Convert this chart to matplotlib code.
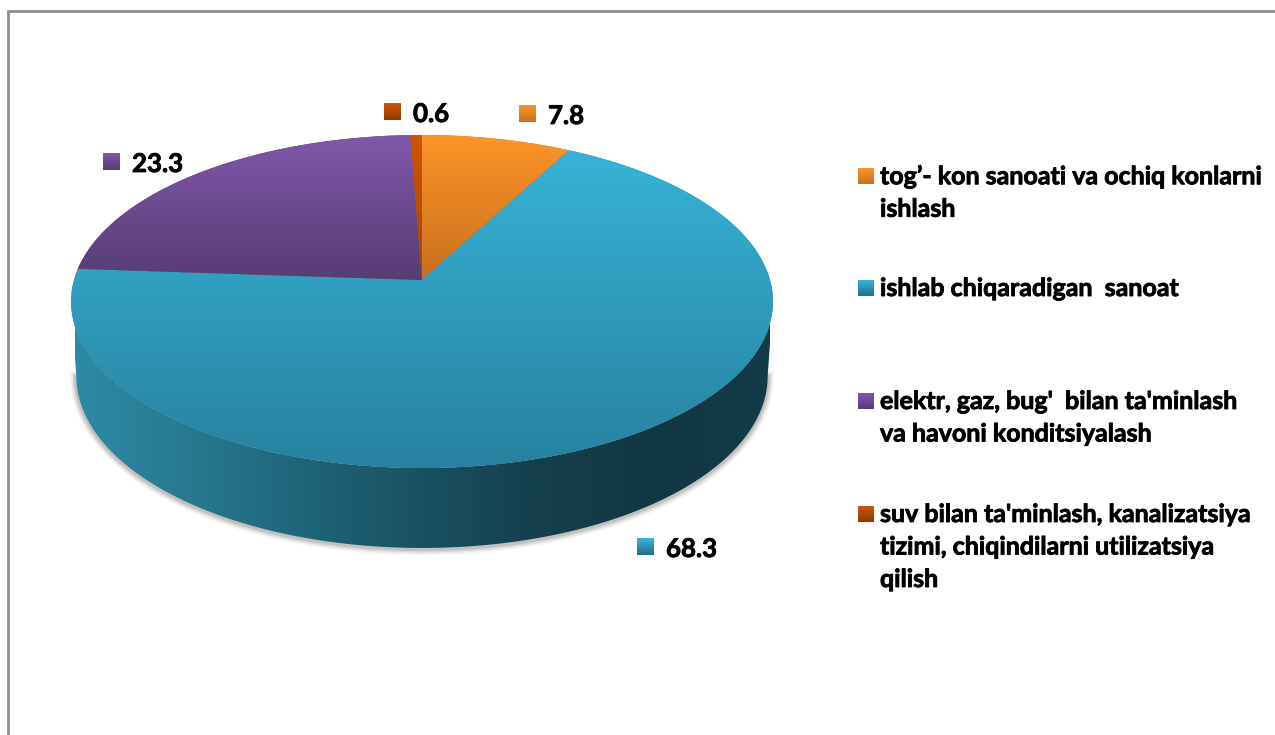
import numpy as np
import matplotlib
matplotlib.use('Agg')
import matplotlib.pyplot as plt
import matplotlib.patheffects as pe
from matplotlib.colors import LinearSegmentedColormap
from matplotlib.patches import Polygon

# Chart data
categories = [
    "tog\u2019- kon sanoati va ochiq konlarni\nishlash",
    "ishlab chiqaradigan  sanoat",
    "elektr, gaz, bug'  bilan ta'minlash\nva havoni konditsiyalash",
    "suv bilan ta'minlash, kanalizatsiya\ntizimi, chiqindilarni utilizatsiya\nqilish",
]
values = [7.8, 68.3, 23.3, 0.6]

# Colours per slice: light end / dark end of the gradient
top_colors = [('#fd9428', '#c8701e'), ('#38b5d9', '#27829f'), ('#8058a9', '#573c75'), ('#cf5500', '#a84400')]
marker_colors = [('#fd9428', '#c8701e'), ('#38b5d9', '#1f6f88'), ('#8058a9', '#573c75'), ('#cf5500', '#8f3a00')]
side_stops = ['#2e8aa7', '#27798f', '#1f6478', '#1a5162', '#153f4d', '#123744', '#133b49']

# Label and legend placement in pixels
value_pos = [(519, 114), (637, 547), (103, 162), (384, 112)]
legend_pos = [(858, 176), (858, 288), (858, 401), (858, 514)]

# Perspective of the pie
CX, CY = 422, 280
RX, RY, K = 348, 163.7, 0.129
WIDEST = 97.4  # angle where the outline is widest
BOTTOM_SX, BOTTOM_SY, BOTTOM_DY = 0.985, 1.032, 74

BOLD = [pe.withStroke(linewidth=0.6, foreground='black')]


def project(theta, sx=1.0, sy=1.0, dy=0.0):
    """theta in degrees, clockwise from the top of the pie."""
    t = np.radians(theta)
    x, y = np.sin(t), np.cos(t)
    w = 1 + K * y
    return np.column_stack([CX + sx * RX * x / w, CY + dy - sy * RY * y / w])


def gradient(ax, patch, c1, c2, y0, y1):
    cmap = LinearSegmentedColormap.from_list('g', [c1, c2])
    im = ax.imshow(np.linspace(0, 1, 256).reshape(-1, 1), cmap=cmap, aspect='auto',
                   extent=(0, 1275, y1, y0), zorder=patch.get_zorder(), interpolation='bilinear')
    im.set_clip_path(patch)


fig = plt.figure(figsize=(12.75, 7.35), dpi=100)
ax = fig.add_axes([0, 0, 1, 1])
ax.axis('off')
plt.rcParams['font.family'] = ['Lato', 'DejaVu Sans']

# Chart frame
ax.plot([7.5, 7.5, 1276], [736, 10.5, 10.5], color='#8e8e8e', lw=2, solid_joinstyle='miter', zorder=1)

# Side wall outline
top_edge = project(np.linspace(360 - WIDEST, WIDEST, 361))
bottom_edge = project(np.linspace(WIDEST, 360 - WIDEST, 361), BOTTOM_SX, BOTTOM_SY, BOTTOM_DY)
side_pts = np.vstack([bottom_edge, top_edge])

# Soft shadow under the wall
for lw, alpha in [(9, 0.04), (7, 0.05), (5, 0.07), (3, 0.10)]:
    ax.plot(bottom_edge[:, 0], bottom_edge[:, 1] + 1, color='black', lw=lw, alpha=alpha, zorder=2)

side = Polygon(side_pts, closed=True, fc='none', ec='none', zorder=3)
ax.add_patch(side)
side_cmap = LinearSegmentedColormap.from_list('side', side_stops)
im = ax.imshow(np.linspace(0, 1, 512).reshape(1, -1), cmap=side_cmap, aspect='auto',
               extent=(75, 770, 735, 0), zorder=3)
im.set_clip_path(side)

# Top face, one wedge per value
start = 0
for val, (c1, c2) in zip(values, top_colors):
    end = start + val / sum(values) * 360
    arc = project(np.linspace(start, end, max(int(end - start) * 2, 8)))
    pts = np.vstack([[CX, CY], arc])
    wedge = Polygon(pts, closed=True, fc=c2, ec='none', zorder=4)
    ax.add_patch(wedge)
    if val > 50:
        gradient(ax, wedge, c1, c2, 135, 468)
    else:
        gradient(ax, wedge, c1, c2, 135, 280)
    start = end

# Value labels with their markers
for val, (x, y), (c1, c2) in zip(values, value_pos, marker_colors):
    box = Polygon([(x, y - 9), (x + 17, y - 9), (x + 17, y + 8), (x, y + 8)], closed=True, fc=c2, ec='none', zorder=5)
    ax.add_patch(box)
    gradient(ax, box, c1, c2, y - 9, y + 8)
    ax.text(x + 29, y + 2, f'{val:.1f}', fontsize=18.6, fontweight='bold', color='black', va='center', ha='left',
            path_effects=BOLD, zorder=6)

# Legend
for label, (x, y), (c1, c2) in zip(categories, legend_pos, marker_colors):
    box = Polygon([(x, y - 8), (x + 16, y - 8), (x + 16, y + 8), (x, y + 8)], closed=True, fc=c2, ec='none', zorder=5)
    ax.add_patch(box)
    gradient(ax, box, c1, c2, y - 8, y + 8)
    ax.text(x + 22, y - 11, label, fontsize=18, fontweight='bold', color='black', va='top', ha='left',
            linespacing=1.5, path_effects=BOLD, zorder=6)

ax.set_xlim(0, 1275)
ax.set_ylim(735, 0)
fig.savefig('out.png', dpi=100)
